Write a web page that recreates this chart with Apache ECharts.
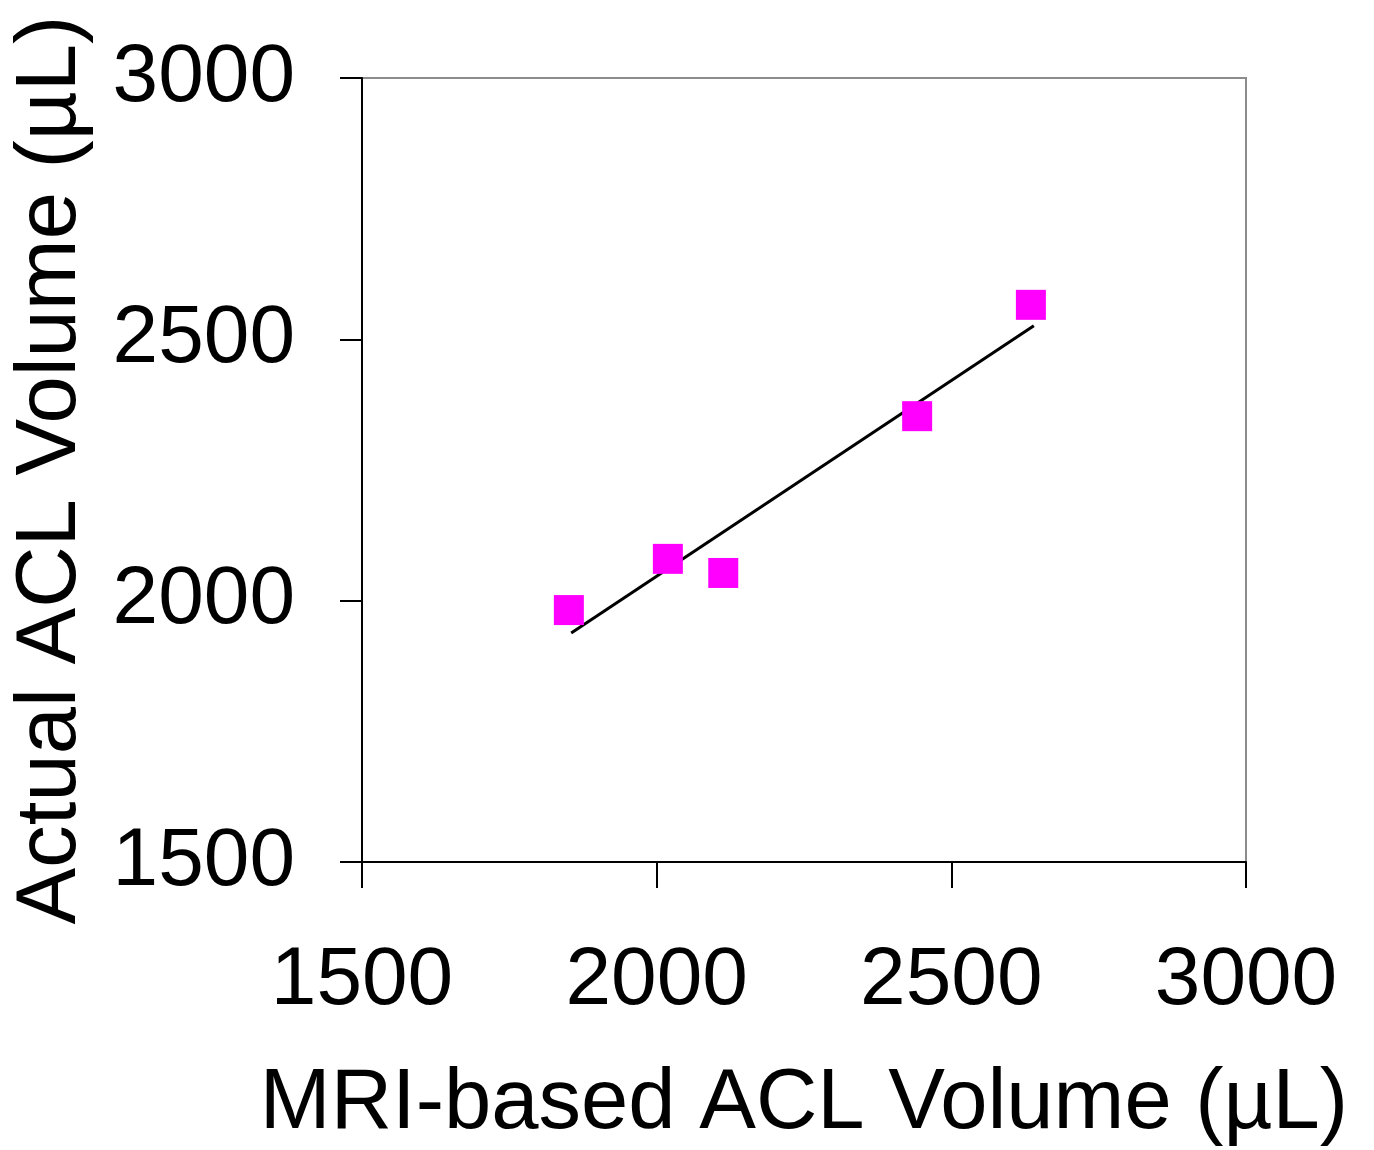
<!DOCTYPE html>
<html>
<head>
<meta charset="utf-8">
<script src="https://cdn.jsdelivr.net/npm/echarts@6/dist/echarts.min.js"></script>
<style>html,body{margin:0;padding:0;background:#fff;}#c{width:1374px;height:1150px;}</style>
</head>
<body>
<div id="c"></div>
<script>
var mriVolume = [1851, 2019, 2113, 2442, 2635];
var actualVolume = [1982, 2080, 2053, 2353, 2566];
var trendX = [1855, 2640];
var trendY = [1938, 2526];
var xTitle = 'MRI-based ACL Volume (µL)';
var yTitle = 'Actual ACL Volume (µL)';

var chart = echarts.init(document.getElementById('c'), null, {renderer: 'canvas'});
var font = 'Liberation Sans, Arial, sans-serif';
function fmt(v) { return String(v); }
chart.setOption({
  animation: false,
  backgroundColor: '#fff',
  grid: {left: 362, top: 78, right: 128, bottom: 288, show: true, borderColor: '#8c8c8c', borderWidth: 2,
         containLabel: false, outerBoundsMode: 'none'},
  xAxis: {
    type: 'value', min: 1500, max: 3000, interval: 500,
    name: xTitle, nameLocation: 'middle', nameGap: 200,
    nameTextStyle: {fontFamily: font, fontSize: 85, color: '#000'},
    axisLine: {show: true, lineStyle: {color: '#000', width: 2}},
    axisTick: {show: true, length: 26, lineStyle: {color: '#000', width: 2}},
    axisLabel: {fontFamily: font, fontSize: 82, color: '#000', margin: 78, formatter: fmt},
    splitLine: {show: false}
  },
  yAxis: {
    type: 'value', min: 1500, max: 3000, interval: 500,
    name: yTitle, nameLocation: 'middle', nameGap: 268, nameRotate: 90,
    nameTextStyle: {fontFamily: font, fontSize: 85, color: '#000'},
    axisLine: {show: true, lineStyle: {color: '#000', width: 2}},
    axisTick: {show: true, length: 22, lineStyle: {color: '#000', width: 2}},
    axisLabel: {fontFamily: font, fontSize: 82, color: '#000', margin: 67, formatter: fmt},
    splitLine: {show: false}
  },
  series: [
    {
      type: 'line',
      data: trendX.map(function (x, i) { return [x, trendY[i]]; }),
      showSymbol: false, symbol: 'none',
      lineStyle: {color: '#000', width: 3},
      z: 2
    },
    {
      type: 'scatter',
      data: mriVolume.map(function (x, i) { return [x, actualVolume[i]]; }),
      symbol: 'rect', symbolSize: 30,
      itemStyle: {color: '#ff00ff', opacity: 1},
      z: 3
    }
  ]
});
</script>
</body>
</html>
